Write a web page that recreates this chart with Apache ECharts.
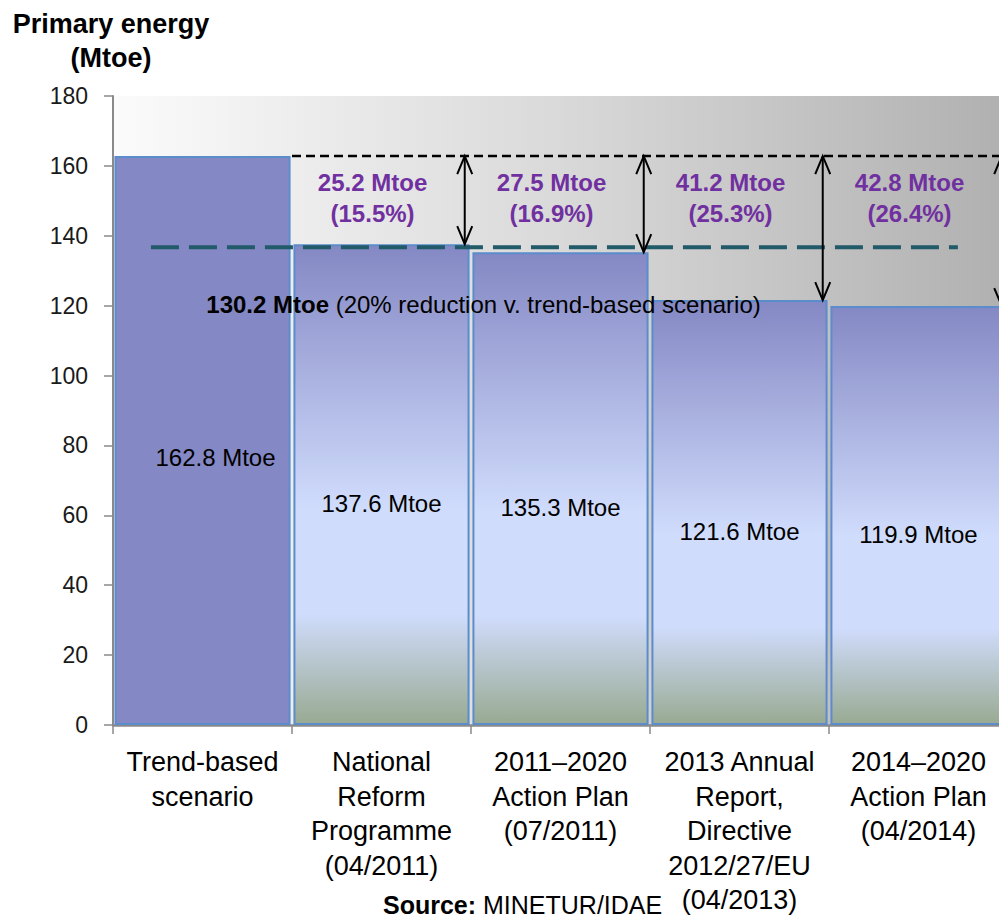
<!DOCTYPE html>
<html>
<head>
<meta charset="utf-8">
<script src="https://cdn.jsdelivr.net/npm/echarts@6/dist/echarts.min.js"></script>
<style>
html,body{margin:0;padding:0;background:#ffffff;}
#chart{width:999px;height:918px;}
</style>
</head>
<body>
<div id="chart"></div>
<script>
// ---- data ----
const categories = [
  'Trend-based\nscenario',
  'National\nReform\nProgramme\n(04/2011)',
  '2011\u20132020\nAction Plan\n(07/2011)',
  '2013 Annual\nReport,\nDirective\n2012/27/EU\n(04/2013)',
  '2014\u20132020\nAction Plan\n(04/2014)'
];
const primaryEnergy = [162.8, 137.6, 135.3, 121.6, 119.9];
const savingsMtoe = [25.2, 27.5, 41.2, 42.8];
const savingsPct = [15.5, 16.9, 25.3, 26.4];
const targetLineLevel = 136.7;
const targetLabelMtoe = 130.2;
const targetReductionPct = 20;
const yMin = 0, yMax = 180, yStep = 20;

// ---- styling ----
const FONT = '"Liberation Sans", Arial, Helvetica, sans-serif';
const PURPLE = '#7030a0';
const AXIS_GRAY = '#8a8a8a';

const planGradient = {
  type: 'linear', x: 0, y: 0, x2: 0, y2: 1,
  colorStops: [
    { offset: 0, color: '#8488c4' },
    { offset: 0.55, color: '#d0dcfc' },
    { offset: 0.77, color: '#d0dcfc' },
    { offset: 1, color: '#98aa92' }
  ]
};

const barData = primaryEnergy.map((v, i) => {
  if (i === 0) {
    return { value: v, itemStyle: { color: '#8488c4' }, label: { offset: [13, 17] } };
  }
  return { value: v, itemStyle: { color: planGradient } };
});

const chart = echarts.init(document.getElementById('chart'), null, { renderer: 'svg' });

const option = {
  animation: false,
  backgroundColor: '#ffffff',
  textStyle: { fontFamily: FONT },
  grid: {
    left: 113, right: -9, top: 96, bottom: 193,
    show: true,
    borderWidth: 0,
    outerBoundsMode: 'none',
    backgroundColor: {
      type: 'linear', x: 0, y: 0, x2: 1, y2: 0,
      colorStops: [
        { offset: 0, color: '#fbfbfb' },
        { offset: 0.5, color: '#d9d9d9' },
        { offset: 1, color: '#b0b0b0' }
      ]
    }
  },
  xAxis: [
    {
      type: 'category',
      data: categories,
      boundaryGap: true,
      axisLine: { show: true, onZero: false, lineStyle: { color: AXIS_GRAY, width: 2.5 } },
      axisTick: { show: true, length: 9, lineStyle: { color: AXIS_GRAY, width: 1.5 } },
      axisLabel: {
        interval: 0, margin: 20, fontSize: 27, lineHeight: 34.5,
        color: '#000', fontFamily: FONT, align: 'center'
      },
      splitLine: { show: false }
    },
    {
      type: 'value', min: -0.5, max: 4.5, show: false,
      axisLine: { onZero: false }
    }
  ],
  yAxis: {
    type: 'value', min: yMin, max: yMax, interval: yStep,
    axisLine: { show: true, onZero: false, lineStyle: { color: AXIS_GRAY, width: 2 } },
    axisTick: { show: true, length: 9, lineStyle: { color: AXIS_GRAY, width: 1.5 } },
    axisLabel: { fontSize: 23, color: '#1a1a1a', margin: 25, fontFamily: FONT },
    splitLine: { show: false }
  },
  series: [
    {
      type: 'bar',
      data: barData,
      barCategoryGap: '1.6%',
      itemStyle: { borderColor: '#5b8ccc', borderWidth: 2 },
      label: {
        show: true, position: 'inside', offset: [0, 19],
        fontSize: 24, color: '#000', fontFamily: FONT,
        formatter: p => p.value.toFixed(1) + ' Mtoe'
      },
      z: 2
    },
    {
      // trend-based level, dashed black
      type: 'line', xAxisIndex: 1, yAxisIndex: 0,
      data: [[0.5, primaryEnergy[0]], [4.5, primaryEnergy[0]]],
      symbol: 'none', silent: true,
      lineStyle: { color: '#000', width: 2.5, type: [9, 5] },
      z: 5
    },
    {
      // target level, dashed teal
      type: 'line', xAxisIndex: 1, yAxisIndex: 0,
      data: [[-0.288, targetLineLevel], [4.22, targetLineLevel]],
      symbol: 'none', silent: true,
      lineStyle: { color: '#215a68', width: 4, type: [28, 10] },
      z: 5
    },
    {
      // double-headed arrows showing the savings
      type: 'custom', xAxisIndex: 1, yAxisIndex: 0,
      silent: true, z: 6,
      data: savingsMtoe.map((s, i) => [i + 1 + 0.465, primaryEnergy[0], primaryEnergy[i + 1]]),
      renderItem: function (params, api) {
        const p1 = api.coord([api.value(0), api.value(1)]);
        const p2 = api.coord([api.value(0), api.value(2)]);
        const st = { stroke: '#000', lineWidth: 2, fill: 'none' };
        return {
          type: 'group',
          children: [
            { type: 'line', shape: { x1: p1[0], y1: p1[1], x2: p2[0], y2: p2[1] }, style: st },
            { type: 'polyline', shape: { points: [[p1[0] - 7.5, p1[1] + 18], [p1[0], p1[1]], [p1[0] + 7.5, p1[1] + 18]] }, style: st },
            { type: 'polyline', shape: { points: [[p2[0] - 7.5, p2[1] - 18], [p2[0], p2[1]], [p2[0] + 7.5, p2[1] - 18]] }, style: st }
          ]
        };
      }
    },
    {
      // purple saving labels
      type: 'custom', xAxisIndex: 1, yAxisIndex: 0,
      silent: true, z: 7,
      data: savingsMtoe.map((s, i) => [i + 1 - 0.05, 150.7, i]),
      renderItem: function (params, api) {
        const p = api.coord([api.value(0), api.value(1)]);
        const i = api.value(2);
        return {
          type: 'text',
          x: p[0], y: p[1],
          style: {
            text: savingsMtoe[i].toFixed(1) + ' Mtoe\n(' + savingsPct[i].toFixed(1) + '%)',
            fill: PURPLE, fontSize: 24, fontWeight: 'bold', fontFamily: FONT,
            align: 'center', verticalAlign: 'middle', lineHeight: 31
          }
        };
      }
    },
    {
      // target annotation text
      type: 'custom', xAxisIndex: 1, yAxisIndex: 0,
      silent: true, z: 7,
      data: [[1.57, 120.2]],
      renderItem: function (params, api) {
        const p = api.coord([api.value(0), api.value(1)]);
        return {
          type: 'text',
          x: p[0], y: p[1],
          style: {
            text: '{b|' + targetLabelMtoe.toFixed(1) + ' Mtoe} (' + targetReductionPct + '% reduction v. trend-based scenario)',
            fill: '#000', fontSize: 24, fontFamily: FONT,
            align: 'center', verticalAlign: 'middle',
            rich: { b: { fontWeight: 'bold', fontSize: 24, fontFamily: FONT, fill: '#000' } }
          }
        };
      }
    }
  ],
  graphic: [
    {
      type: 'text', x: 111, y: 24, silent: true,
      style: { text: 'Primary energy', fontSize: 27, fontWeight: 'bold', fontFamily: FONT, fill: '#000', align: 'center', verticalAlign: 'middle' }
    },
    {
      type: 'text', x: 111, y: 58, silent: true,
      style: { text: '(Mtoe)', fontSize: 27, fontWeight: 'bold', fontFamily: FONT, fill: '#000', align: 'center', verticalAlign: 'middle' }
    },
    {
      type: 'text', x: 383, y: 905, silent: true,
      style: {
        text: '{b|Source:} MINETUR/IDAE',
        fontSize: 25, fontFamily: FONT, fill: '#000', align: 'left', verticalAlign: 'middle',
        rich: { b: { fontWeight: 'bold', fontSize: 25, fontFamily: FONT, fill: '#000' } }
      }
    }
  ]
};

chart.setOption(option);
</script>
</body>
</html>
